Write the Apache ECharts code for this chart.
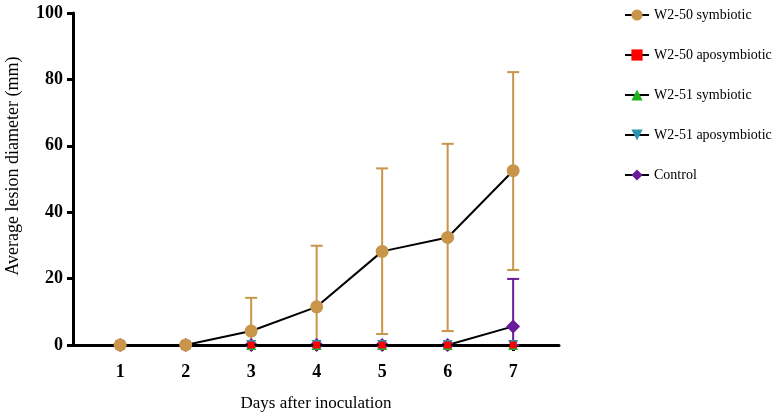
<!DOCTYPE html>
<html>
<head>
<meta charset="utf-8">
<script src="https://cdn.jsdelivr.net/npm/echarts@6/dist/echarts.min.js"></script>
<style>
  html, body { margin: 0; padding: 0; background: #fff; }
  #main { width: 780px; height: 415px; }
</style>
</head>
<body>
<div id="main"></div>
<script>
// days after inoculation
const days = [1, 2, 3, 4, 5, 6, 7]

// mean lesion diameter (mm)
const w250Sym = [0, 0, 4.2, 11.5, 28.2, 32.4, 52.5]
const w250Apo = [0, 0, 0, 0, 0, 0, 0]
const w251Sym = [0, 0, 0, 0, 0, 0, 0]
const w251Apo = [0, 0, 0, 0, 0, 0, 0]
const control = [0, 0, 0, 0, 0, 0, 5.6]

// error bars (upper / lower end)
const w250SymHigh = [0, 0, 14.2, 29.9, 53.2, 60.6, 82.2]
const w250SymLow = [0, 0, 0, 0, 3.3, 4.2, 22.6]
const controlHigh = [0, 0, 0, 0, 0, 0, 19.9]
const controlLow = [0, 0, 0, 0, 0, 0, 0]

const yTicks = [0, 20, 40, 60, 80, 100]

const serif = "'Liberation Serif', 'Times New Roman', serif"

function pairs(vals) {
    return days.map((d, i) => [d, vals[i]])
}

function errData(low, high) {
    return days.map((d, i) => [d, low[i], high[i]])
}

function errBar(color) {
    return function (params, api) {
        const x = api.value(0)
        const lo = api.coord([x, api.value(1)])
        const hi = api.coord([x, api.value(2)])
        if (Math.abs(lo[1] - hi[1]) < 0.5) return null
        const w = 6
        const style = { stroke: color, lineWidth: 2 }
        return {
            type: 'group',
            children: [
                { type: 'line', shape: { x1: hi[0], y1: hi[1], x2: lo[0], y2: lo[1] }, style },
                { type: 'line', shape: { x1: hi[0] - w, y1: hi[1], x2: hi[0] + w, y2: hi[1] }, style },
                { type: 'line', shape: { x1: lo[0] - w, y1: lo[1], x2: lo[0] + w, y2: lo[1] }, style }
            ]
        }
    }
}

const chart = echarts.init(document.getElementById('main'))

const lineStyle = { color: '#000', width: 2 }

const option = {
    animation: false,
    grid: { left: 73, right: 221, top: 13, bottom: 70, outerBoundsMode: 'none' },
    legend: {
        orient: 'vertical',
        left: 619,
        top: 3,
        itemWidth: 24,
        itemHeight: 14,
        itemGap: 26,
        data: ['W2-50 symbiotic', 'W2-50 aposymbiotic', 'W2-51 symbiotic', 'W2-51 aposymbiotic', 'Control'],
        textStyle: { fontFamily: serif, fontSize: 14, color: '#000' }
    },
    xAxis: {
        type: 'value',
        min: 0.28,
        max: 7.7,
        name: 'Days after inoculation',
        nameLocation: 'middle',
        nameGap: 50,
        nameTextStyle: { fontFamily: serif, fontSize: 17, color: '#000' },
        splitLine: { show: false },
        axisLine: { lineStyle: { color: '#000', width: 3 } },
        axisTick: { customValues: days, length: 6, lineStyle: { color: '#000', width: 3 } },
        axisLabel: {
            customValues: days,
            margin: 18,
            fontFamily: serif, fontSize: 18, fontWeight: 'bold', color: '#000'
        }
    },
    yAxis: {
        type: 'value',
        min: 0,
        max: 100,
        interval: 20,
        name: 'Average lesion diameter (mm)',
        nameLocation: 'middle',
        nameGap: 51,
        nameTextStyle: { fontFamily: serif, fontSize: 18, color: '#000', padding: [0, 0, 0, 26] },
        splitLine: { show: false },
        axisLine: { show: true, lineStyle: { color: '#000', width: 3 } },
        axisTick: { show: true, length: 6, lineStyle: { color: '#000', width: 3 } },
        axisLabel: {
            customValues: yTicks,
            margin: 10,
            fontFamily: serif, fontSize: 18, fontWeight: 'bold', color: '#000'
        }
    },
    series: [
        {
            type: 'custom',
            name: 'sym-err',
            renderItem: errBar('#c8954b'),
            data: errData(w250SymLow, w250SymHigh),
            encode: { x: 0, y: [1, 2] },
            z: 1
        },
        {
            type: 'custom',
            name: 'ctrl-err',
            renderItem: errBar('#6a1b9a'),
            data: errData(controlLow, controlHigh),
            encode: { x: 0, y: [1, 2] },
            z: 1
        },
        {
            name: 'Control',
            type: 'line',
            data: pairs(control),
            symbol: 'diamond',
            symbolSize: 14,
            itemStyle: { color: '#6a1b9a' },
            lineStyle,
            z: 2
        },
        {
            name: 'W2-51 symbiotic',
            type: 'line',
            data: pairs(w251Sym),
            symbol: 'triangle',
            symbolSize: 10,
            itemStyle: { color: '#1fb31f' },
            lineStyle,
            z: 3
        },
        {
            name: 'W2-51 aposymbiotic',
            type: 'line',
            data: pairs(w251Apo),
            symbol: 'triangle',
            symbolRotate: 180,
            symbolSize: 10,
            itemStyle: { color: '#2a95b0' },
            lineStyle,
            z: 4
        },
        {
            name: 'W2-50 aposymbiotic',
            type: 'line',
            data: pairs(w250Apo),
            symbol: 'rect',
            symbolSize: 7,
            itemStyle: { color: '#ff0000' },
            lineStyle,
            z: 5
        },
        {
            name: 'W2-50 symbiotic',
            type: 'line',
            data: pairs(w250Sym),
            symbol: 'circle',
            symbolSize: 13,
            itemStyle: { color: '#c8954b' },
            lineStyle,
            z: 6
        }
    ]
}

chart.setOption(option)
</script>
</body>
</html>
